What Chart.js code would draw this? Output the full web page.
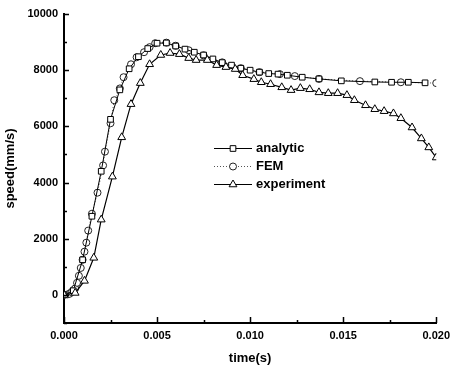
<!DOCTYPE html>
<html>
<head>
<meta charset="utf-8">
<script src="https://cdn.jsdelivr.net/npm/chart.js@4/dist/chart.umd.min.js"></script>
<style>
  html, body { margin: 0; padding: 0; background: #fff; }
</style>
</head>
<body>
<canvas id="chart" width="456" height="368"></canvas>
<script>
// values
const analyticTime = [0, 0.0005, 0.001, 0.0015, 0.002, 0.0025, 0.003, 0.0035, 0.004, 0.0045,
  0.005, 0.0055, 0.006, 0.0065, 0.007, 0.0075, 0.008, 0.0085, 0.009, 0.0095,
  0.010, 0.0105, 0.011, 0.0115, 0.012, 0.0128, 0.0137, 0.0149, 0.0167, 0.0176, 0.0185, 0.0194];
const analyticSpeed = [0, 150, 1250, 2800, 4400, 6250, 7300, 8050, 8480, 8770,
  8960, 8970, 8860, 8750, 8640, 8540, 8400, 8270, 8180, 8070,
  8000, 7930, 7880, 7860, 7820, 7750, 7690, 7620, 7580, 7570, 7570, 7550];

const femTime = [0, 0.0002, 0.0003, 0.0004, 0.0005, 0.0006, 0.0007, 0.0008, 0.0009, 0.0010,
  0.0011, 0.0012, 0.0013, 0.0015, 0.0018, 0.0021, 0.0022, 0.0025, 0.0027, 0.0030,
  0.0032, 0.0036, 0.0039, 0.0043, 0.0046, 0.0049, 0.0055, 0.0060, 0.0067, 0.0075,
  0.0085, 0.0095, 0.0105, 0.0116, 0.0124, 0.0137, 0.0159, 0.0181, 0.0200];
const femSpeed = [0, 20, 40, 100, 170, 230, 430, 680, 960, 1250,
  1540, 1860, 2290, 2890, 3640, 4610, 5100, 6110, 6930, 7350,
  7750, 8210, 8460, 8640, 8820, 8960, 8980, 8870, 8710, 8530,
  8280, 8070, 7930, 7860, 7790, 7690, 7610, 7570, 7540];

const expTime = [0, 0.0006, 0.0011, 0.0016, 0.0020, 0.0026, 0.0031, 0.0036, 0.0041, 0.0046,
  0.0052, 0.0057, 0.0062, 0.0067, 0.0071, 0.0077, 0.0082, 0.0087, 0.0092, 0.0096,
  0.0102, 0.0106, 0.0111, 0.0117, 0.0122, 0.0127, 0.0132, 0.0137, 0.0142, 0.0147,
  0.0152, 0.0156, 0.0162, 0.0167, 0.0172, 0.0177, 0.0181, 0.0187, 0.0192, 0.0196, 0.0200];
const expSpeed = [0, 70, 500, 1320, 2680, 4210, 5610, 6790, 7540, 8210,
  8540, 8610, 8570, 8430, 8360, 8360, 8180, 8110, 8040, 7820,
  7680, 7570, 7500, 7390, 7290, 7360, 7320, 7210, 7180, 7180,
  7110, 6930, 6750, 6610, 6540, 6460, 6290, 5960, 5570, 5250, 4890];

const xTicks = [0, 0.005, 0.010, 0.015, 0.020];
const xMinorTicks = [0.0025, 0.0075, 0.0125, 0.0175];
const yTicks = [0, 2000, 4000, 6000, 8000, 10000];
const yMinorTicks = [-1000, 1000, 3000, 5000, 7000, 9000];

const pairs = (xs, ys) => xs.map((x, i) => ({ x: x, y: ys[i] }));
const FONT = 'Arial, "Liberation Sans", sans-serif';

// ticks pointing into the plot, like the original
const innerTicks = {
  id: 'innerTicks',
  afterDraw(chart) {
    const { ctx, chartArea: a, scales: { x, y } } = chart;
    ctx.save();
    ctx.strokeStyle = '#000';
    ctx.lineWidth = 1.5;
    ctx.beginPath();
    const yMark = (v, len) => {
      const p = Math.round(y.getPixelForValue(v)) + 0.5;
      ctx.moveTo(a.left, p); ctx.lineTo(a.left + len, p);
    };
    const xMark = (v, len) => {
      const p = Math.round(x.getPixelForValue(v)) + 0.5;
      ctx.moveTo(p, a.bottom); ctx.lineTo(p, a.bottom - len);
    };
    yTicks.forEach(v => yMark(v, 5));
    yMinorTicks.forEach(v => yMark(v, 3));
    xTicks.forEach(v => xMark(v, 6));
    xMinorTicks.forEach(v => xMark(v, 3));
    ctx.stroke();
    ctx.restore();
  }
};

// legend box inside the plot
const insideLegend = {
  id: 'insideLegend',
  afterDraw(chart) {
    const ctx = chart.ctx;
    const x0 = 214, x1 = 252, top = 148, gap = 18;
    ctx.save();
    chart.data.datasets.forEach((ds, i) => {
      const yy = top + i * gap + 0.5;
      ctx.strokeStyle = ds.borderColor;
      ctx.lineWidth = ds.borderWidth;
      ctx.setLineDash(ds.borderDash || []);
      ctx.beginPath();
      ctx.moveTo(x0, yy); ctx.lineTo(x1, yy);
      ctx.stroke();
      ctx.setLineDash([]);
      ctx.fillStyle = '#fff';
      ctx.strokeStyle = ds.pointBorderColor;
      ctx.lineWidth = 1;
      Chart.helpers.drawPoint(ctx, {
        pointStyle: ds.pointStyle, radius: ds.pointRadius, rotation: 0, borderWidth: 1
      }, (x0 + x1) / 2, yy);
      ctx.fillStyle = '#000';
      ctx.font = 'bold 13px ' + FONT;
      ctx.textBaseline = 'middle';
      ctx.fillText(ds.label, x1 + 4, yy);
    });
    ctx.restore();
  }
};

new Chart(document.getElementById('chart'), {
  type: 'line',
  data: {
    datasets: [
      {
        label: 'analytic',
        data: pairs(analyticTime, analyticSpeed),
        borderColor: '#000', borderWidth: 1,
        pointStyle: 'rect', pointRadius: 4,
        pointBackgroundColor: '#fff', pointBorderColor: '#000', pointBorderWidth: 1,
        tension: 0, order: 1
      },
      {
        label: 'FEM',
        data: pairs(femTime, femSpeed),
        borderColor: '#555', borderWidth: 1, borderDash: [1, 2],
        pointStyle: 'circle', pointRadius: 3.5,
        pointBackgroundColor: '#fff', pointBorderColor: '#222', pointBorderWidth: 1,
        tension: 0, order: 2
      },
      {
        label: 'experiment',
        data: pairs(expTime, expSpeed),
        borderColor: '#000', borderWidth: 1.2,
        pointStyle: 'triangle', pointRadius: 4.5,
        pointBackgroundColor: '#fff', pointBorderColor: '#000', pointBorderWidth: 1,
        tension: 0, order: 0
      }
    ]
  },
  options: {
    responsive: false,
    animation: false,
    layout: { padding: { top: 14, right: 16, left: 0, bottom: 0 } },
    plugins: { legend: { display: false }, tooltip: { enabled: false } },
    scales: {
      x: {
        type: 'linear', min: 0, max: 0.02,
        afterBuildTicks: s => { s.ticks = xTicks.map(v => ({ value: v })); },
        afterFit: s => { s.height = 45; },
        ticks: {
          callback: v => Number(v).toFixed(3),
          color: '#000', font: { family: FONT, size: 11, weight: 'bold' },
          padding: 6, maxRotation: 0, autoSkip: false
        },
        grid: { drawOnChartArea: false, drawTicks: false },
        border: { display: true, color: '#000', width: 2 },
        title: {
          display: true, text: 'time(s)', color: '#000',
          font: { family: FONT, size: 13, weight: 'bold' }, padding: { top: 0, bottom: 2 }
        }
      },
      y: {
        type: 'linear', min: -1000, max: 10000,
        afterBuildTicks: s => { s.ticks = yTicks.map(v => ({ value: v })); },
        afterFit: s => { s.width = 64; },
        ticks: {
          callback: v => String(v),
          color: '#000', font: { family: FONT, size: 11, weight: 'bold' },
          padding: 6, autoSkip: false
        },
        grid: { drawOnChartArea: false, drawTicks: false },
        border: { display: true, color: '#000', width: 2 },
        title: {
          display: true, text: 'speed(mm/s)', color: '#000',
          font: { family: FONT, size: 13, weight: 'bold' }, padding: { top: 3, bottom: 0 }
        }
      }
    }
  },
  plugins: [innerTicks, insideLegend]
});
</script>
</body>
</html>
